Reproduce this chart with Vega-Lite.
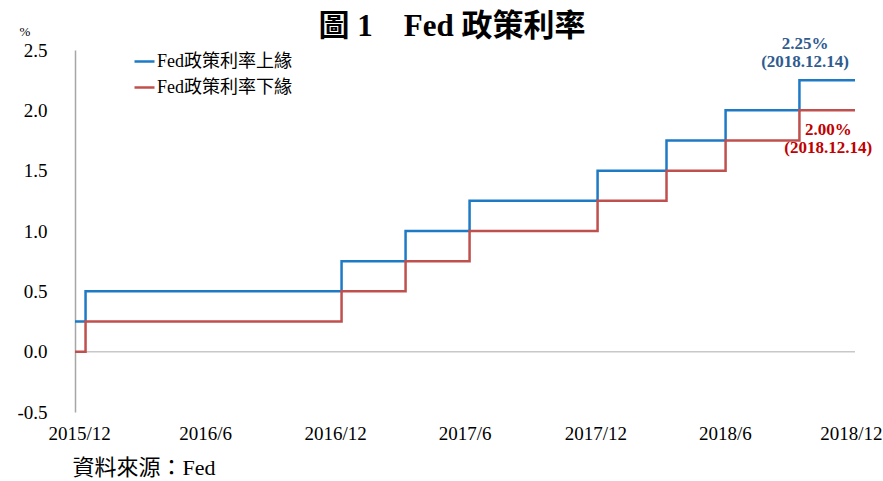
{
  "$schema": "https://vega.github.io/schema/vega-lite/v6.json",
  "width": 780,
  "height": 362,
  "autosize": "none",
  "padding": {"left": 75, "top": 50, "right": 28, "bottom": 69},
  "background": "white",
  "config": {
    "view": {"stroke": null},
    "font": "Liberation Serif, Noto Sans CJK TC"
  },
  "title": {
    "text": "圖 1　Fed 政策利率",
    "font": "Liberation Serif, Noto Sans CJK TC",
    "fontSize": 31,
    "fontWeight": "bold",
    "color": "black",
    "anchor": "middle",
    "dx": -13,
    "offset": 10,
    "dy": 28
  },
  "datasets": {
    "rates": [
      {"date": "2015-12-01", "series": "Fed政策利率上緣", "value": 0.25},
      {"date": "2015-12-16", "series": "Fed政策利率上緣", "value": 0.5},
      {"date": "2016-12-14", "series": "Fed政策利率上緣", "value": 0.75},
      {"date": "2017-03-15", "series": "Fed政策利率上緣", "value": 1.0},
      {"date": "2017-06-14", "series": "Fed政策利率上緣", "value": 1.25},
      {"date": "2017-12-13", "series": "Fed政策利率上緣", "value": 1.5},
      {"date": "2018-03-21", "series": "Fed政策利率上緣", "value": 1.75},
      {"date": "2018-06-13", "series": "Fed政策利率上緣", "value": 2.0},
      {"date": "2018-09-26", "series": "Fed政策利率上緣", "value": 2.25},
      {"date": "2018-12-14", "series": "Fed政策利率上緣", "value": 2.25},
      {"date": "2015-12-01", "series": "Fed政策利率下緣", "value": 0.0},
      {"date": "2015-12-16", "series": "Fed政策利率下緣", "value": 0.25},
      {"date": "2016-12-14", "series": "Fed政策利率下緣", "value": 0.5},
      {"date": "2017-03-15", "series": "Fed政策利率下緣", "value": 0.75},
      {"date": "2017-06-14", "series": "Fed政策利率下緣", "value": 1.0},
      {"date": "2017-12-13", "series": "Fed政策利率下緣", "value": 1.25},
      {"date": "2018-03-21", "series": "Fed政策利率下緣", "value": 1.5},
      {"date": "2018-06-13", "series": "Fed政策利率下緣", "value": 1.75},
      {"date": "2018-09-26", "series": "Fed政策利率下緣", "value": 2.0},
      {"date": "2018-12-14", "series": "Fed政策利率下緣", "value": 2.0}
    ],
    "notes": [
      {"date": "2018-10-04", "value": 2.55, "label": "2.25%", "series": "upper"},
      {"date": "2018-10-04", "value": 2.40, "label": "(2018.12.14)", "series": "upper"},
      {"date": "2018-11-06", "value": 1.84, "label": "2.00%", "series": "lower"},
      {"date": "2018-11-06", "value": 1.69, "label": "(2018.12.14)", "series": "lower"}
    ],
    "zero": [{"value": 0}]
  },
  "layer": [
    {
      "data": {"name": "zero"},
      "mark": {"type": "rule", "color": "#c8c8c8", "strokeWidth": 1.5},
      "encoding": {
        "y": {"field": "value", "type": "quantitative", "scale": {"domain": [-0.5, 2.5]}}
      }
    },
    {
      "data": {"name": "rates"},
      "mark": {"type": "line", "interpolate": "step-after", "strokeWidth": 2.5},
      "encoding": {
        "x": {
          "field": "date",
          "type": "temporal",
          "scale": {"type": "utc", "domain": ["2015-12-01", "2018-12-14"]},
          "axis": {
            "values": ["2015-12-01", "2016-06-03", "2016-12-05", "2017-06-07", "2017-12-10", "2018-06-12", "2018-12-14"],
            "labelExpr": "utcFormat(datum.value, '%Y') + '/' + (utcmonth(datum.value) + 1)",
            "labelFlush": true,
            "labelFlushOffset": 27,
            "labelOverlap": false,
            "domain": false,
            "ticks": false,
            "grid": false,
            "labelFontSize": 19,
            "labelColor": "black",
            "labelPadding": 12,
            "labelFont": "Liberation Serif",
            "title": "資料來源：Fed",
            "titleAnchor": "start",
            "titleX": -3,
            "titleFontSize": 22,
            "titleFontWeight": "normal",
            "titleColor": "black",
            "titleFont": "Liberation Serif, Noto Sans CJK TC",
            "titlePadding": 14
          }
        },
        "y": {
          "field": "value",
          "type": "quantitative",
          "scale": {"domain": [-0.5, 2.5], "nice": false, "zero": false},
          "axis": {
            "values": [-0.5, 0, 0.5, 1, 1.5, 2, 2.5],
            "labelExpr": "replace(format(datum.value, '.1f'), '\u2212', '-')",
            "domainColor": "#a6a6a6",
            "domainWidth": 1.5,
            "ticks": false,
            "grid": false,
            "labelFontSize": 19,
            "labelColor": "black",
            "labelPadding": 28,
            "labelFont": "Liberation Serif",
            "title": "%",
            "titleAngle": 0,
            "titleAnchor": "end",
            "titleAlign": "left",
            "titleBaseline": "bottom",
            "titleX": -56,
            "titleY": -12,
            "titleFontSize": 13,
            "titleFontWeight": "normal",
            "titleColor": "black",
            "titleFont": "Liberation Serif"
          }
        },
        "color": {
          "field": "series",
          "type": "nominal",
          "scale": {"domain": ["Fed政策利率上緣", "Fed政策利率下緣"], "range": ["#1f7ac6", "#c0504d"]},
          "legend": {
            "title": null,
            "orient": "none",
            "legendX": 58,
            "legendY": 0,
            "symbolType": "stroke",
            "symbolSize": 400,
            "symbolStrokeWidth": 2.5,
            "labelFontSize": 18,
            "labelFont": "Liberation Serif, Noto Sans CJK TC",
            "labelColor": "black",
            "labelOffset": 1,
            "rowPadding": 5
          }
        }
      }
    },
    {
      "data": {"name": "notes"},
      "mark": {"type": "text", "fontSize": 17, "fontWeight": "bold", "font": "Liberation Serif", "clip": false},
      "encoding": {
        "x": {"field": "date", "type": "temporal"},
        "y": {"field": "value", "type": "quantitative"},
        "text": {"field": "label"},
        "color": {
          "field": "series",
          "type": "nominal",
          "scale": {"domain": ["upper", "lower"], "range": ["#2f5b8f", "#c00000"]},
          "legend": null
        }
      }
    }
  ],
  "resolve": {"scale": {"color": "independent"}}
}
